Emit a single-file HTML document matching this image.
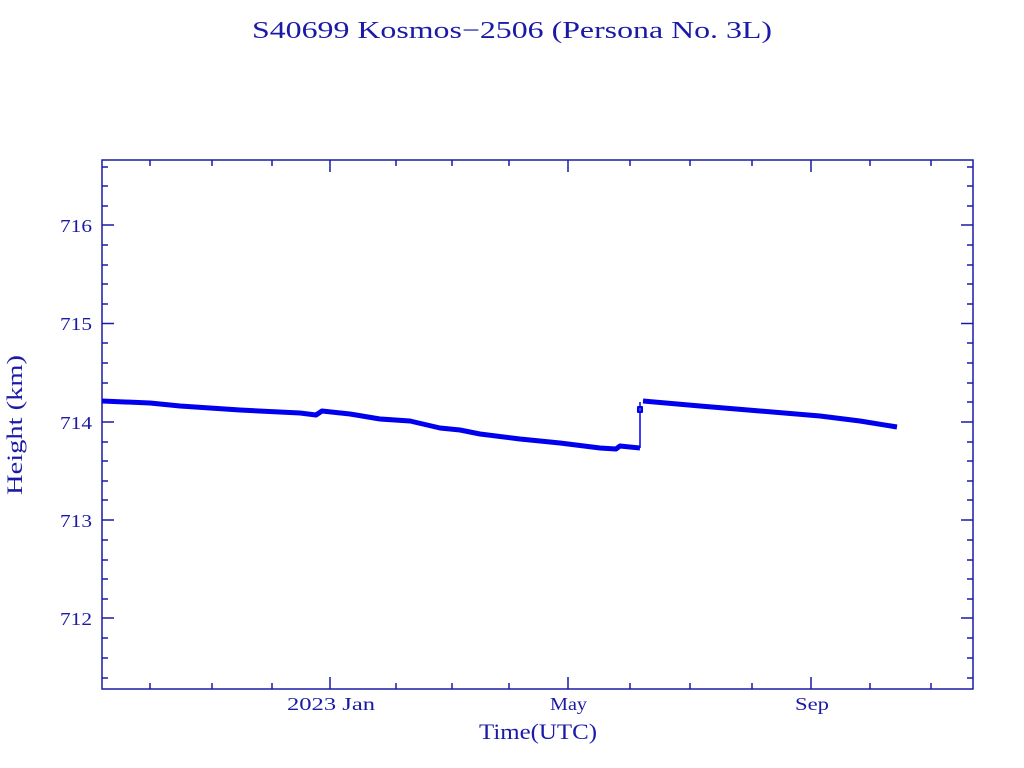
<!DOCTYPE html>
<html><head><style>body{margin:0;background:#fff}svg{display:block}</style></head><body>
<svg width="1024" height="768" xmlns="http://www.w3.org/2000/svg" font-family="Liberation Serif, serif" fill="#1a1aa6">
<text x="252" y="38" font-size="24" textLength="520" lengthAdjust="spacingAndGlyphs">S40699 Kosmos−2506  (Persona No. 3L)</text>
<g stroke="#1a1aa6" stroke-width="1.5" fill="none">
<rect x="102" y="160" width="871" height="529"/>
<path d="M102 167h6M102 186h6M102 206h6M102 245h6M102 265h6M102 284h6M102 304h6M102 343h6M102 363h6M102 383h6M102 402h6M102 442h6M102 461h6M102 481h6M102 500h6M102 540h6M102 560h6M102 579h6M102 599h6M102 638h6M102 658h6M102 678h6
M102 225h12M102 323.5h12M102 422h12M102 520h12M102 618h12
M973 167h-6M973 186h-6M973 206h-6M973 245h-6M973 265h-6M973 284h-6M973 304h-6M973 343h-6M973 363h-6M973 383h-6M973 402h-6M973 442h-6M973 461h-6M973 481h-6M973 500h-6M973 540h-6M973 560h-6M973 579h-6M973 599h-6M973 638h-6M973 658h-6M973 678h-6
M973 225h-12M973 323.5h-12M973 422h-12M973 520h-12M973 618h-12
M150 689v-6M212 689v-6M272 689v-6M396 689v-6M452 689v-6M509 689v-6M630 689v-6M690 689v-6M752 689v-6M870 689v-6M931 689v-6
M330 689v-12M568 689v-12M811 689v-12
M150 160v6M212 160v6M272 160v6M396 160v6M452 160v6M509 160v6M630 160v6M690 160v6M752 160v6M870 160v6M931 160v6
M330 160v12M568 160v12M811 160v12"/>
</g>
<g font-size="18">
<text x="60" y="232" textLength="32" lengthAdjust="spacingAndGlyphs">716</text><text x="60" y="330" textLength="32" lengthAdjust="spacingAndGlyphs">715</text><text x="60" y="429" textLength="32" lengthAdjust="spacingAndGlyphs">714</text><text x="60" y="527" textLength="32" lengthAdjust="spacingAndGlyphs">713</text><text x="60" y="625" textLength="32" lengthAdjust="spacingAndGlyphs">712</text>
<text x="287" y="710" textLength="88" lengthAdjust="spacingAndGlyphs">2023 Jan</text>
<text x="550" y="710" textLength="37" lengthAdjust="spacingAndGlyphs">May</text>
<text x="795" y="710" textLength="34" lengthAdjust="spacingAndGlyphs">Sep</text>
</g>
<text x="479" y="739" font-size="22" textLength="118" lengthAdjust="spacingAndGlyphs">Time(UTC)</text>
<text transform="translate(22,495) rotate(-90)" font-size="22" textLength="140" lengthAdjust="spacingAndGlyphs">Height (km)</text>
<g stroke="#0000ee" fill="none" stroke-linejoin="round">
<polyline stroke-width="5" points="102,401 150,403 180,406 240,410 300,413 316,415 322,411 350,414 380,419 410,421 440,428 460,430 480,434 520,439 560,443 600,448 616,449 620,446 640,448"/>
<path stroke-width="1.5" d="M640 448V402"/>
<rect x="638" y="407" width="4" height="5" stroke-width="2"/>
<polyline stroke-width="5" points="643,401 700,406 760,411 820,416 860,421 897,427"/>
</g>
</svg>
</body></html>
